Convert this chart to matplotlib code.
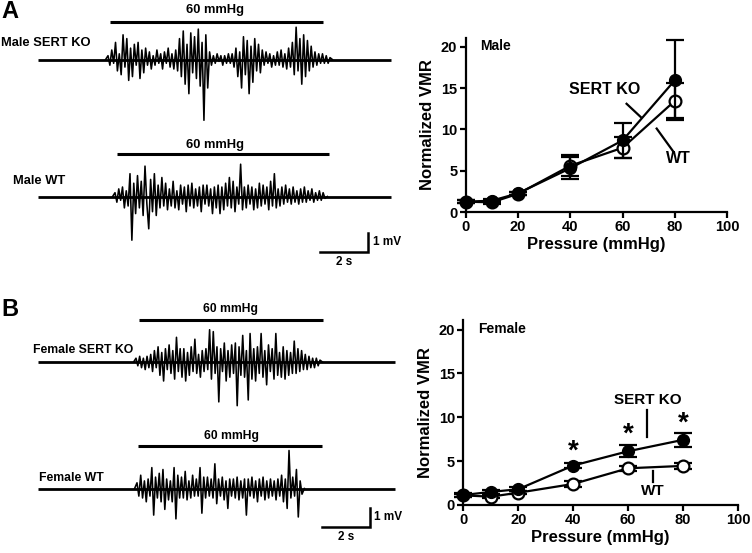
import numpy as np
import matplotlib
matplotlib.use("Agg")
import matplotlib.pyplot as plt

plt.rcParams['font.family'] = ['Liberation Sans', 'DejaVu Sans']
plt.rcParams['font.weight'] = 'bold'

# ---- line chart data (normalized VMR) ----
pressure = [0, 10, 20, 40, 60, 80]

male_ko = [1.25, 1.37, 2.26, 5.3, 8.67, 15.97]
male_ko_err = [0.2, 0.2, 0.2, 1.3, 2.1, 4.8]
male_wt = [1.25, 1.17, 2.2, 5.6, 7.78, 13.47]
male_wt_err = [0.2, 0.2, 0.2, 1.3, 1.25, 2.1]

female_ko = [1.14, 1.49, 1.8, 4.5, 6.13, 7.43]
female_ko_err = [0.2, 0.2, 0.2, 0.3, 0.7, 0.8]
female_wt = [1.1, 0.95, 1.4, 2.4, 4.19, 4.46]
female_wt_err = [0.2, 0.2, 0.2, 0.3, 0.3, 0.3]

star_x = [40, 60, 80]
star_y = [6.1, 8.0, 9.26]

x_ticks = [0, 20, 40, 60, 80, 100]
y_ticks = [0, 5, 10, 15, 20]

male_ko_burst = [0.2, -0.3, 0.5, -0.2, 0.9, -0.6, 0.3, -0.8, 1.3, -0.4, 1.1, -1.1, 0.6, -0.9, 0.8, -0.3, 0.9, -1.0, 0.5, -0.7, 0.6,
                 -0.3, 0.4, -0.5, 0.2, -0.3, 0.5, -0.2, 0.3, -0.5, 0.4, -0.2, 0.6, -0.4, 0.3, -0.5, 0.5,
                 -0.6, 1.1, -0.9, 1.5, -1.3, 0.8, -1.8, 1.4, -0.7, 1.2, -1.0, 1.6, -1.4, 0.9, -3.2, 1.3, -1.5, 0.4,
                 -0.3, 0.2, -0.2, 0.3, -0.1, 0.2, -0.3, 0.2, -0.2, 0.3, -0.2, 0.3,
                 -0.4, 0.6, -0.9, 0.4, -1.5, 1.2, -0.8, 1.0, -1.8, 0.7, -1.2, 1.1, -0.6, 0.8, -0.7, 0.5,
                 -0.3, 0.4, -0.2, 0.3, -0.4, 0.2, -0.3, 0.4, -0.3, 0.5, -0.4, 0.3, -0.5,
                 0.6, -0.4, 0.9, -0.8, 1.7, -0.6, 1.1, -1.3, 1.3, -0.9, 1.0, -0.6, 0.7, -0.4,
                 0.4, -0.3, 0.3, -0.2, 0.3, -0.2, 0.2, -0.2, 0.1]
male_wt_burst = [0.2, -0.3, 0.4, -0.2, 0.5, -0.6, 0.3,
                 -0.5, 1.2, -2.3, 0.7, -0.9, 1.1, -0.6, 0.8, -1.0, 1.6, -0.4,
                 -1.7, 0.9, -0.8, 1.2, -1.0, 0.6, -0.6, 1.0, -0.5,
                 0.7, -0.7, 0.4, -0.5, 0.8, -0.6, 0.3, -0.7, 0.6, -0.4, 0.5, -0.8, 0.6, -0.5, 0.7, -0.6, 0.4,
                 -0.5, 0.5, -0.8, 0.6, -0.4, 0.6, -0.5, 0.4, -0.9, 0.5,
                 -0.6, 0.6, -0.9, 0.5, -0.7, 0.7, -0.5, 1.0, -0.6, 0.8, -0.8, 0.5, -0.4, 1.7, -0.7,
                 0.5, -0.6, 0.6, -0.4, 0.5, -0.7, 0.4, -0.6, 0.7, -0.5, 0.6, -0.4, 0.5, -0.7, 0.8, -0.5, 1.2, -0.6, 0.4,
                 -0.5, 0.5, -0.4, 0.6, -0.3, 0.4, -0.4, 0.5, -0.3, 0.3, -0.4, 0.4, -0.3, 0.5, -0.3, 0.3, -0.2, 0.4,
                 -0.3, 0.2, -0.2, 0.3, -0.2, 0.2, -0.1]
female_ko_burst = [0.2, -0.2, 0.3, -0.3, 0.2, -0.4, 0.3, -0.3,
                   0.4, -0.5, 0.6, -0.3, 0.8, -0.7, 0.5, -1.0, 0.7, -0.4, 0.9, -0.6, 0.6, -0.9, 1.3, -0.5, 0.7, -0.8,
                   0.7, -1.0, 0.5, -0.7, 0.8, -0.5, 1.2, -0.6, 0.4, -0.8, 0.6, -0.5, 0.7,
                   -0.4, 1.7, -0.9, 1.6,
                   -0.6, 0.8, -2.1, 0.7, -0.5, 1.0, -1.0, 0.6, -0.8, 0.9, -0.6, 1.0, -2.3, 0.8, -0.7,
                   1.4, -0.8, 0.6, -2.0, 1.5, -0.9, 0.7,
                   -1.0, 0.8, -0.6, 1.5, -0.8, 0.6, -1.2, 0.9, -0.5, 0.7, -0.9, 1.5, -0.7, 0.5, -0.8,
                   0.8, -0.9, 0.6, -0.7, 0.5, -0.6, 1.1, -0.6, 0.7, -0.5, 0.6, -0.4,
                   0.4, -0.4, 0.3, -0.3, 0.2, -0.3, 0.2, -0.2, 0.1]
female_wt_burst = [0.3, -0.4, 0.7, -0.5, 0.4, -0.7, 0.5,
                   -0.4, 1.1, -1.4, 0.6, -0.5, 0.8, -0.7, 1.0, -1.1,
                   0.5, -0.6, 0.4, -0.7, 1.1, -1.6, 0.7, -0.5, 0.6,
                   -0.5, 0.9, -0.6, 0.4, -0.5, 0.7, -0.4, 0.5, -0.4, 1.1, -1.3, 0.6, -0.5,
                   0.6, -0.4, 0.5, -0.5, 1.3, -0.8, 0.5, -0.4, 0.6,
                   -0.6, 0.4, -1.05, 0.5, -0.4, 0.5, -0.5, 0.6, -0.6, 0.4, -0.5, 0.5, -1.4,
                   0.5, -0.4, 0.6, -0.5, 0.4, -0.7, 0.5, -0.4, 0.6, -0.6, 0.4, -0.5, 0.5, -0.4,
                   0.4, -0.6, 0.5, -0.4, 0.7, -0.7, 0.5, -1.05, 2.0,
                   -0.5, 0.6, -0.4, 1.0, -1.5, 0.4, -0.3]

W, H = 752, 553
PX_PER_S = 24.0
PX_PER_MV = 19.0
X0 = 38.0


def fx(px):
    return px / W


def fy(py):
    return 1 - py / H


def t_of(px):
    return (px - X0) / PX_PER_S


def mv_of(py):
    return (H - py) / PX_PER_MV


def draw_trace(ax, burst, base_py, start_px, end_px, last_px):
    off = mv_of(base_py)
    ax.plot([0, t_of(last_px)], [off, off], color='black', lw=2.0,
            solid_capstyle='butt')
    t = np.linspace(t_of(start_px), t_of(end_px), len(burst))
    ax.plot(np.concatenate([[t_of(start_px) - 0.1], t, [t_of(end_px) + 0.1]]),
            np.concatenate([[0], burst, [0]]) + off, color='black', lw=1.15)


def draw_bar(ax, label, x1, x2, bar_py, text_px, text_py, size):
    ax.plot([t_of(x1), t_of(x2)], [mv_of(bar_py)] * 2, color='black', lw=2.2,
            solid_capstyle='butt')
    ax.text(t_of(text_px), mv_of(text_py), label, ha='center', va='center',
            fontsize=size, fontweight='bold')


def draw_scale(ax, x1, y1):
    t1 = t_of(x1)
    v1 = mv_of(y1)
    ax.plot([t1, t1 + 2, t1 + 2], [v1, v1, v1 + 1], color='black', lw=1.8,
            solid_joinstyle='miter')
    ax.text(t1 + 2 + 0.2, v1 + 0.5, '1 mV', ha='left', va='center',
            fontsize=8.5, fontweight='bold')
    ax.text(t1 + 1, v1 - 0.55, '2 s', ha='center', va='center',
            fontsize=8.5, fontweight='bold')


fig = plt.figure(figsize=(W / 100, H / 100), dpi=100)

# traces drawn on a full figure axes (seconds vs mV)
tr = fig.add_axes([0, 0, 1, 1])
tr.set_xlim(-X0 / PX_PER_S, (W - X0) / PX_PER_S)
tr.set_ylim(0, H / PX_PER_MV)
tr.axis('off')

draw_trace(tr, male_ko_burst, 59.5, 108, 330, 391)
draw_trace(tr, male_wt_burst, 196.5, 115, 325, 391)
draw_trace(tr, female_ko_burst, 362, 136, 320, 395)
draw_trace(tr, female_wt_burst, 488.5, 137, 302, 395)

draw_bar(tr, '60 mmHg', 110, 322.7, 21.7, 215, 10, 9.3)
draw_bar(tr, '60 mmHg', 116.7, 329.3, 154.3, 215, 145, 9.3)
draw_bar(tr, '60 mmHg', 139.3, 323.3, 320, 230, 309.3, 8.7)
draw_bar(tr, '60 mmHg', 138.3, 321.7, 446, 231, 436, 8.7)

draw_scale(tr, 320, 251.7)
draw_scale(tr, 321.7, 526.7)

fig.text(fx(1), fy(43), 'Male SERT KO', ha='left', va='center', fontsize=9.3, fontweight='bold')
fig.text(fx(13), fy(181), 'Male WT', ha='left', va='center', fontsize=9.3, fontweight='bold')
fig.text(fx(33), fy(350), 'Female SERT KO', ha='left', va='center', fontsize=8.8, fontweight='bold')
fig.text(fx(39), fy(478), 'Female WT', ha='left', va='center', fontsize=8.8, fontweight='bold')
fig.text(fx(1), fy(11), 'A', ha='left', va='center', fontsize=17, fontweight='bold')
fig.text(fx(1), fy(310), 'B', ha='left', va='center', fontsize=17, fontweight='bold')


def vmr_axes(rect, ko, ko_err, wt, wt_err, title):
    ax = fig.add_axes(rect)
    ax.errorbar(pressure, wt, yerr=wt_err, color='black', lw=1.6, marker='o',
                ms=8.5, mfc='white', mec='black', mew=1.6, capsize=6.5,
                capthick=1.6, elinewidth=1.6, clip_on=False, zorder=3)
    ax.errorbar(pressure, ko, yerr=ko_err, color='black', lw=1.6, marker='o',
                ms=8.5, mfc='black', mec='black', capsize=6.5, capthick=1.6,
                elinewidth=1.6, clip_on=False, zorder=4)
    ax.set_xlim(0, 100)
    ax.set_ylim(0, 21.1)
    ax.set_xticks(x_ticks)
    ax.set_yticks(y_ticks)
    ax.spines['top'].set_visible(False)
    ax.spines['right'].set_visible(False)
    for s in ('left', 'bottom'):
        ax.spines[s].set_linewidth(1.6)
    ax.tick_params(direction='out', length=4, width=1.6, labelsize=10.5,
                   pad=2)
    for lab in ax.get_xticklabels() + ax.get_yticklabels():
        lab.set_fontweight('bold')
    ax.set_xlabel('Pressure (mmHg)', fontsize=12, fontweight='bold', labelpad=2)
    ax.set_ylabel('Normalized VMR', fontsize=12, fontweight='bold', labelpad=4)
    ax.text(5.5, 20.1, title, ha='left', va='center', fontsize=10,
            fontweight='bold')
    return ax


am = vmr_axes([fx(465.7), fy(212), fx(727.3) - fx(465.7), (212 - 37.7) / H],
              male_ko, male_ko_err, male_wt, male_wt_err, 'Male')
am.text(53.2, 14.8, 'SERT KO', ha='center', va='center', fontsize=11.5, fontweight='bold')
am.plot([61.5, 66.9], [13.1, 11.5], color='black', lw=1.6)
am.text(81.3, 6.5, 'WT', ha='center', va='center', fontsize=11.5, fontweight='bold')
am.plot([73, 79.4], [10.1, 7.3], color='black', lw=1.6)

af = vmr_axes([fx(463.3), fy(505), fx(738) - fx(463.3), (505 - 320) / H],
              female_ko, female_ko_err, female_wt, female_wt_err, 'Female')
af.text(67.3, 12.0, 'SERT KO', ha='center', va='center', fontsize=11, fontweight='bold')
af.plot([66.9, 66.9], [10.86, 7.8], color='black', lw=1.6)
af.text(69, 1.6, 'WT', ha='center', va='center', fontsize=11, fontweight='bold')
af.plot([69.1, 69.1], [3.9, 2.67], color='black', lw=1.6)
for sx, sy in zip(star_x, star_y):
    af.text(sx, sy, '*', ha='center', va='center', fontsize=20, fontweight='bold')

fig.savefig('out.png', dpi=100)
